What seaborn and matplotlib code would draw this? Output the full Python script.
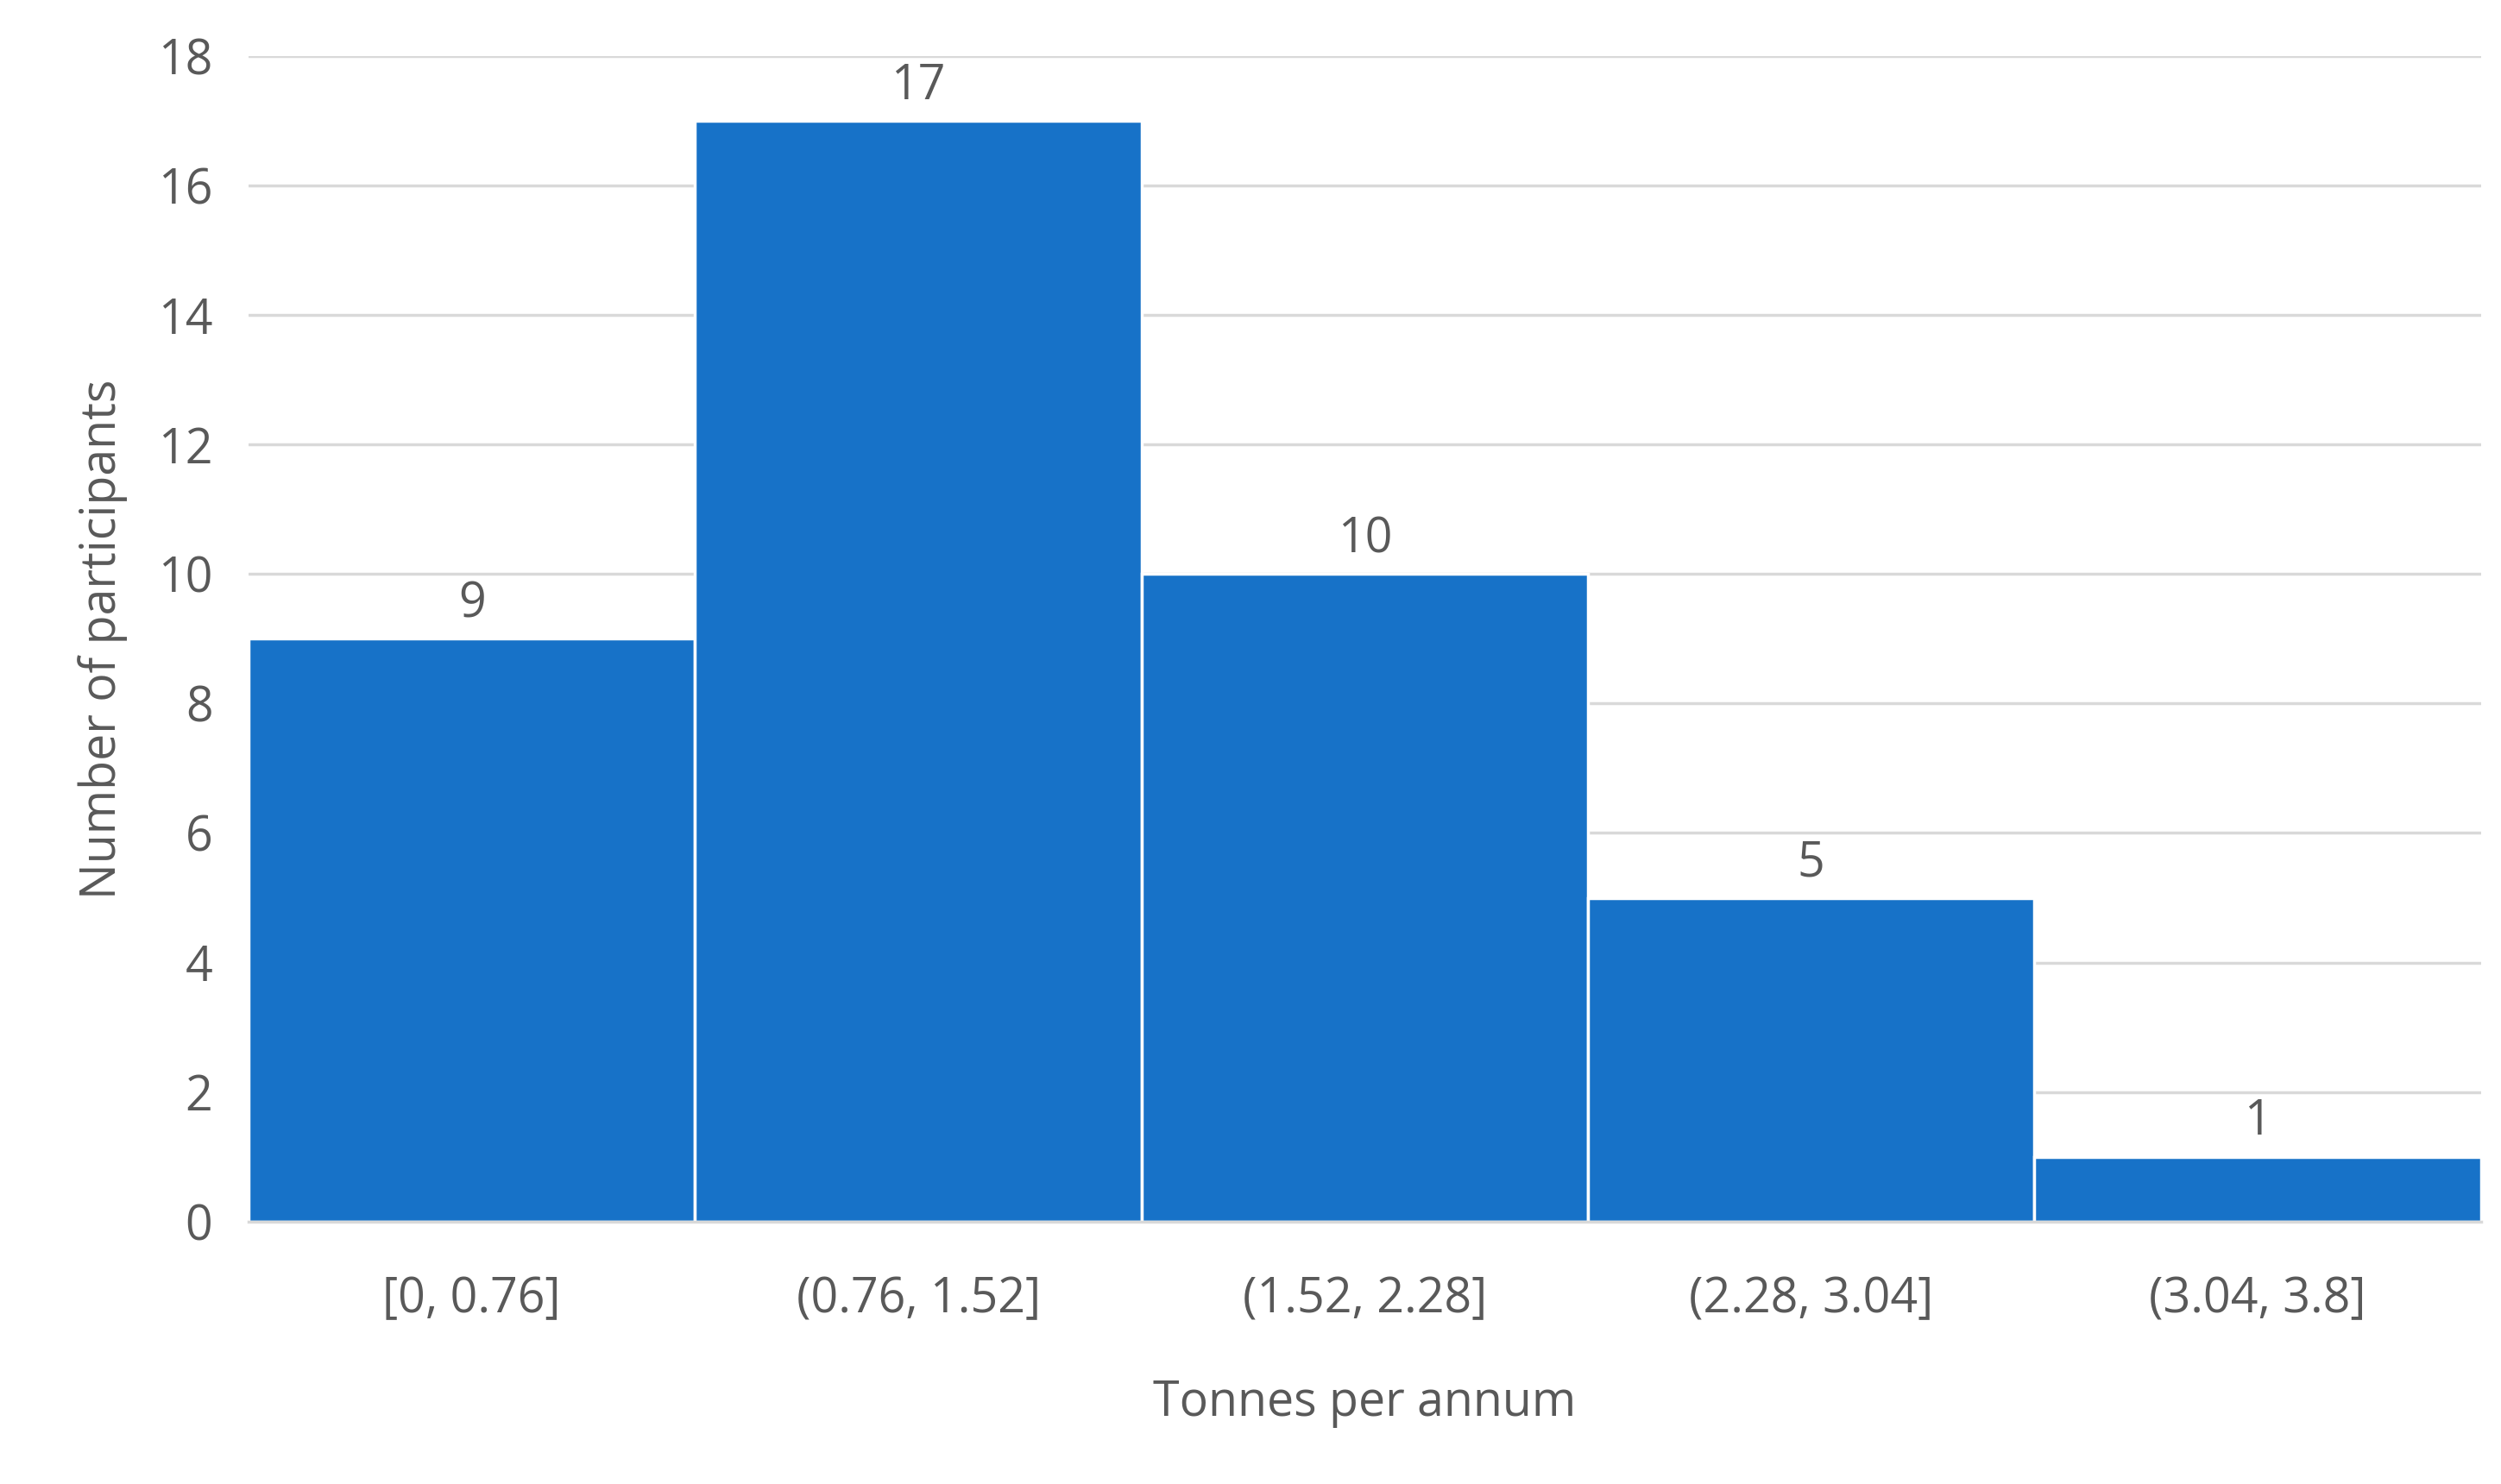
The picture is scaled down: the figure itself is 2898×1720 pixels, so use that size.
import matplotlib
matplotlib.use("Agg")
import matplotlib.pyplot as plt
import seaborn as sns

bins = ["[0, 0.76]", "(0.76, 1.52]", "(1.52, 2.28]", "(2.28, 3.04]", "(3.04, 3.8]"]
counts = [9, 17, 10, 5, 1]

sns.set_theme(style="whitegrid")
plt.rcParams['font.family'] = ['Open Sans', 'DejaVu Sans']
text_col = "#595959"

fig = plt.figure(figsize=(28.98, 17.2), dpi=100)
ax = fig.add_axes([0.0994, 0.177, 0.8926, 0.785])

sns.barplot(x=bins, y=counts, color="#1772C8", saturation=1, width=1.0,
            edgecolor="white", linewidth=2.5, ax=ax)

for i, c in enumerate(counts):
    ax.text(i, c + 0.15, str(c), ha="center", va="bottom", fontsize=40, color=text_col)

ax.set_ylim(0, 18)
ax.set_xlim(-0.5, 4.5)
ax.set_yticks(range(0, 19, 2))
ax.grid(axis="y", color="#D9D9D9", linewidth=2.5)
ax.grid(axis="x", visible=False)
ax.set_axisbelow(True)
for s in ["left", "right", "top"]:
    ax.spines[s].set_visible(False)
ax.spines["bottom"].set_color("#D9D9D9")
ax.spines["bottom"].set_linewidth(2.5)
ax.tick_params(axis="both", labelsize=40, colors=text_col, length=0)
ax.tick_params(axis="x", pad=45)
ax.tick_params(axis="y", pad=30)
ax.set_xlabel("Tonnes per annum", fontsize=40, color=text_col, labelpad=45)
ax.set_ylabel("Number of participants", fontsize=40, color=text_col, labelpad=25)

fig.savefig("out.png", dpi=100, facecolor="white")
